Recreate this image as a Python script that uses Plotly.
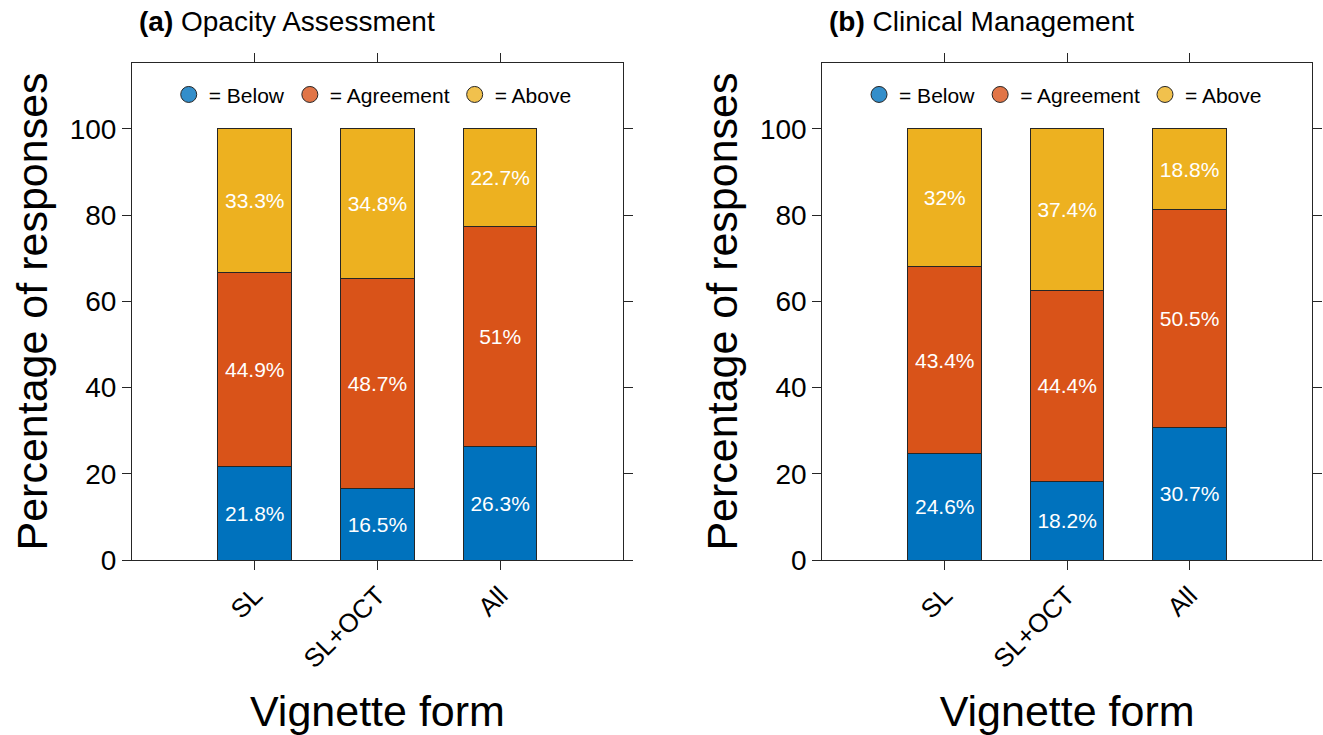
import plotly.graph_objects as go

# Vignette forms on the x axis
categories = ["SL", "SL+OCT", "All"]

# (a) Opacity assessment, percentage of responses
opacity_below = [21.8, 16.5, 26.3]
opacity_agreement = [44.9, 48.7, 51.0]
opacity_above = [33.3, 34.8, 22.7]

# (b) Clinical management, percentage of responses
clinical_below = [24.6, 18.2, 30.7]
clinical_agreement = [43.4, 44.4, 50.5]
clinical_above = [32.0, 37.4, 18.8]

y_ticks = [0, 20, 40, 60, 80, 100]

series_names = ["Below", "Agreement", "Above"]
bar_colors = ["#0072BD", "#D95319", "#EDB120"]
legend_colors = ["#338ECA", "#E17547", "#F1C14D"]

FONT = "Liberation Sans, Arial, Helvetica, sans-serif"
INK = "#262626"


def fmt(v):
    s = f"{v:.1f}"
    if s.endswith(".0"):
        s = s[:-2]
    return s + "%"


fig = go.Figure()

panels = [
    ("x", "y", "legend", [opacity_below, opacity_agreement, opacity_above]),
    ("x2", "y2", "legend2", [clinical_below, clinical_agreement, clinical_above]),
]

for xa, ya, lg, groups in panels:
    for name, color, vals in zip(series_names, bar_colors, groups):
        fig.add_trace(go.Bar(
            x=categories, y=vals, xaxis=xa, yaxis=ya,
            width=0.6,
            marker=dict(color=color, line=dict(color=INK, width=1)),
            text=[fmt(v) for v in vals],
            textposition="inside",
            insidetextanchor="middle",
            constraintext="none",
            textfont=dict(color="white", size=21, family=FONT),
            showlegend=False,
            hoverinfo="skip",
        ))
    # circular legend swatches
    for name, color in zip(series_names, legend_colors):
        fig.add_trace(go.Scatter(
            x=[None], y=[None], xaxis=xa, yaxis=ya,
            mode="markers",
            marker=dict(symbol="circle", size=16, color=color,
                        line=dict(color=INK, width=1)),
            name="= " + name,
            legend=lg,
            showlegend=True,
        ))

axis_common = dict(
    showline=True, linecolor=INK, linewidth=1, mirror="ticks",
    ticks="outside", ticklen=9, tickwidth=1, tickcolor=INK,
    showgrid=False, zeroline=False,
)

x_common = dict(
    axis_common, type="category", range=[-1, 3],
    tickangle=-45, tickfont=dict(size=26, color="black", family=FONT),
    title=dict(text="Vignette form", font=dict(size=43, color="black", family=FONT),
               standoff=25),
)
y_common = dict(
    axis_common, range=[0, 115.3], tickvals=y_ticks,
    tickfont=dict(size=28, color="black", family=FONT),
    title=dict(text="Percentage of responses",
               font=dict(size=43, color="black", family=FONT), standoff=8),
)

legend_common = dict(
    orientation="h", yanchor="middle", xanchor="center", traceorder="normal",
    font=dict(size=21, color="black", family=FONT),
    bgcolor="rgba(0,0,0,0)", itemclick=False, itemdoubleclick=False,
)

fig.update_layout(
    width=1323, height=735,
    margin=dict(l=132, r=1, t=63, b=175),
    paper_bgcolor="white", plot_bgcolor="white",
    barmode="stack",
    font=dict(family=FONT, color="black"),
    xaxis=dict(x_common, domain=[0, 0.416], anchor="y"),
    yaxis=dict(y_common, anchor="x"),
    xaxis2=dict(x_common, domain=[0.585, 1], anchor="y2"),
    yaxis2=dict(y_common, anchor="x2"),
    legend=dict(legend_common, x=0.204, y=0.936),
    legend2=dict(legend_common, x=0.789, y=0.936),
    annotations=[
        dict(text="<b>(a)</b> Opacity Assessment", xref="paper", yref="paper",
             x=0.004, y=1.083, xanchor="left", yanchor="middle", showarrow=False,
             font=dict(size=28, color="black", family=FONT)),
        dict(text="<b>(b)</b> Clinical Management", xref="paper", yref="paper",
             x=0.589, y=1.083, xanchor="left", yanchor="middle", showarrow=False,
             font=dict(size=28, color="black", family=FONT)),
    ],
)

fig.write_html("out.html")
